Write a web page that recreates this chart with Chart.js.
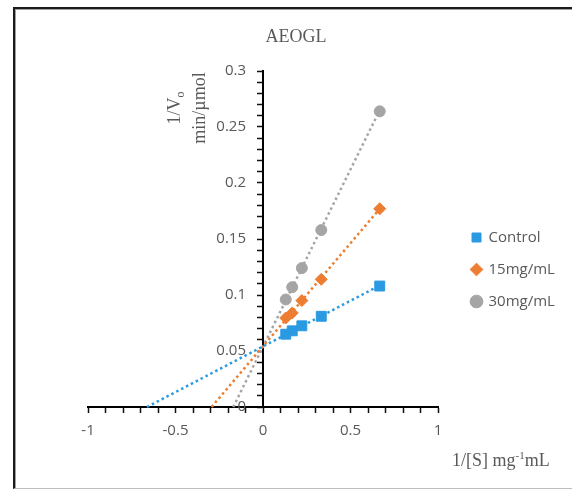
<!DOCTYPE html>
<html lang="en">
<head>
<meta charset="UTF-8">
<title>AEOGL</title>
<script src="https://cdn.jsdelivr.net/npm/chart.js"></script>
<style>
  html, body { margin: 0; padding: 0; background: #fff; }
  #frame {
    position: absolute; left: 13px; top: 7px; width: 580px; height: 482px;
    box-sizing: border-box;
    border-left: 2px solid #1b1b1b; border-top: 2px solid #1b1b1b; border-bottom: 1px solid #bdbdbd;
    box-shadow: inset 1px 1px 0 #a0a0a0;
  }
  #wrap { position: absolute; left: 0; top: 0; width: 572px; height: 490px; }
</style>
</head>
<body>
<div id="frame"></div>
<div id="wrap"><canvas id="chart" width="572" height="490"></canvas></div>

<script>
const chartTitle = 'AEOGL';
const seriesNames = ['Control', '15mg/mL', '30mg/mL'];

// 1/[S] values and 1/Vo per series
const invS = [0.13, 0.167, 0.222, 0.333, 0.667];
const control = [0.065, 0.068, 0.0725, 0.081, 0.108];
const dose15 = [0.0795, 0.084, 0.095, 0.114, 0.177];
const dose30 = [0.096, 0.107, 0.124, 0.158, 0.264];

// linear trendlines: from the x-intercept out to the last point
const controlTrendX = [-0.663, 0.667];
const controlTrendY = [0, 0.1085];
const dose15TrendX = [-0.294, 0.667];
const dose15TrendY = [0, 0.177];
const dose30TrendX = [-0.17, 0.667];
const dose30TrendY = [0, 0.265];

const colors = ['#2a9ae2', '#ed7d31', '#a5a5a5'];
const markers = ['rect', 'rectRot', 'circle'];
const markerSize = [7, 6, 5.5];
const grey = '#595959';

const toPoints = (xs, ys) => xs.map((x, i) => ({ x: x, y: ys[i] }));

const trendSets = [
    [controlTrendX, controlTrendY],
    [dose15TrendX, dose15TrendY],
    [dose30TrendX, dose30TrendY]
].map((t, i) => ({
    label: seriesNames[i] + ' trend',
    data: toPoints(t[0], t[1]),
    showLine: true,
    borderColor: colors[i],
    borderWidth: 2.5,
    borderDash: [2.5, 3],
    pointRadius: 0,
    clip: false
}));

const pointSets = [control, dose15, dose30].map((ys, i) => ({
    label: seriesNames[i],
    data: toPoints(invS, ys),
    showLine: false,
    pointStyle: markers[i],
    pointRadius: markerSize[i],
    backgroundColor: colors[i],
    borderColor: colors[i],
    borderWidth: 1
}));

function nearMultiple(v, step) {
    return Math.abs(v / step - Math.round(v / step)) < 1e-6;
}
function fmt(v) {
    return String(Math.round(v * 100) / 100);
}

// place the legend where the reference has it
const legendPlace = {
    id: 'legendPlace',
    afterLayout(chart) {
        const lg = chart.legend;
        const a = chart.chartArea;
        lg.left = a.right + 17;
        lg.right = lg.left + 120;
        lg.top = a.top + 142;
        lg.bottom = lg.top + 200;
    }
};

// title and axis titles
const axisTexts = {
    id: 'axisTexts',
    afterDraw(chart) {
        const ctx = chart.ctx;
        ctx.save();
        ctx.fillStyle = grey;
        ctx.textBaseline = 'alphabetic';

        ctx.font = '18px "Liberation Serif"';
        ctx.textAlign = 'center';
        ctx.fillText(chartTitle, 296, 42);

        // y title, rotated: "1/V" with subscript o, then "min/µmol"
        ctx.translate(180, 108);
        ctx.rotate(-Math.PI / 2);
        ctx.textAlign = 'left';
        ctx.font = '18px "Liberation Serif"';
        const w1 = ctx.measureText('1/V').width;
        ctx.font = '12px "Liberation Serif"';
        const w2 = ctx.measureText('o').width;
        const s = -(w1 + w2) / 2;
        ctx.font = '18px "Liberation Serif"';
        ctx.fillText('1/V', s, 0);
        ctx.font = '12px "Liberation Serif"';
        ctx.fillText('o', s + w1, 4);
        ctx.font = '18px "Liberation Serif"';
        ctx.textAlign = 'center';
        ctx.fillText('min/µmol', 0, 25);
        ctx.restore();

        // x title: 1/[S] mg^-1 mL
        ctx.save();
        ctx.fillStyle = grey;
        ctx.textAlign = 'left';
        let x = 452;
        const y = 466;
        ctx.font = '18px "Liberation Serif"';
        ctx.fillText('1/[S] mg', x, y);
        x += ctx.measureText('1/[S] mg').width;
        ctx.font = '11px "Liberation Serif"';
        ctx.fillText('-1', x, y - 7);
        x += ctx.measureText('-1').width;
        ctx.font = '18px "Liberation Serif"';
        ctx.fillText('mL', x, y);
        ctx.restore();
    }
};

const axisStyle = {
    grid: {
        display: true,
        drawOnChartArea: false,
        drawTicks: true,
        tickLength: 5,
        tickColor: '#111',
        tickWidth: 1.5
    },
    border: { display: true, color: '#000', width: 2 }
};

const tickFont = { family: 'Open Sans', size: 15 };

new Chart(document.getElementById('chart'), {
    type: 'scatter',
    data: { datasets: trendSets.concat(pointSets) },
    options: {
        responsive: false,
        animation: false,
        devicePixelRatio: 1,
        layout: { padding: { left: 88, right: 134, top: 71, bottom: 83 } },
        plugins: {
            title: { display: false },
            tooltip: { enabled: false },
            legend: {
                position: 'chartArea',
                fullSize: false,
                align: 'start',
                labels: {
                    filter: item => item.datasetIndex >= 3,
                    usePointStyle: true,
                    boxWidth: 9,
                    boxHeight: 9,
                    padding: 17,
                    color: grey,
                    font: { family: 'Open Sans', size: 15 }
                }
            }
        },
        scales: {
            x: Object.assign({}, axisStyle, {
                type: 'linear',
                min: -1,
                max: 1,
                position: { y: 0 },
                ticks: {
                    stepSize: 0.1,
                    autoSkip: false,
                    maxTicksLimit: 100,
                    maxRotation: 0,
                    padding: 10,
                    color: grey,
                    font: tickFont,
                    callback: v => nearMultiple(v, 0.5) ? fmt(v) : ''
                }
            }),
            // axis line and tick marks at x = 0
            y: Object.assign({}, axisStyle, {
                type: 'linear',
                min: 0,
                max: 0.3,
                position: { x: 0 },
                ticks: {
                    stepSize: 0.01,
                    autoSkip: false,
                    maxTicksLimit: 100,
                    display: false
                }
            }),
            // tick labels, set a little left of the axis
            yLabels: {
                type: 'linear',
                axis: 'y',
                min: 0,
                max: 0.3,
                position: { x: -0.097 },
                grid: { display: false },
                border: { display: false },
                ticks: {
                    stepSize: 0.05,
                    autoSkip: false,
                    color: grey,
                    font: tickFont,
                    callback: v => fmt(v)
                }
            }
        }
    },
    plugins: [legendPlace, axisTexts]
});
</script>
</body>
</html>
